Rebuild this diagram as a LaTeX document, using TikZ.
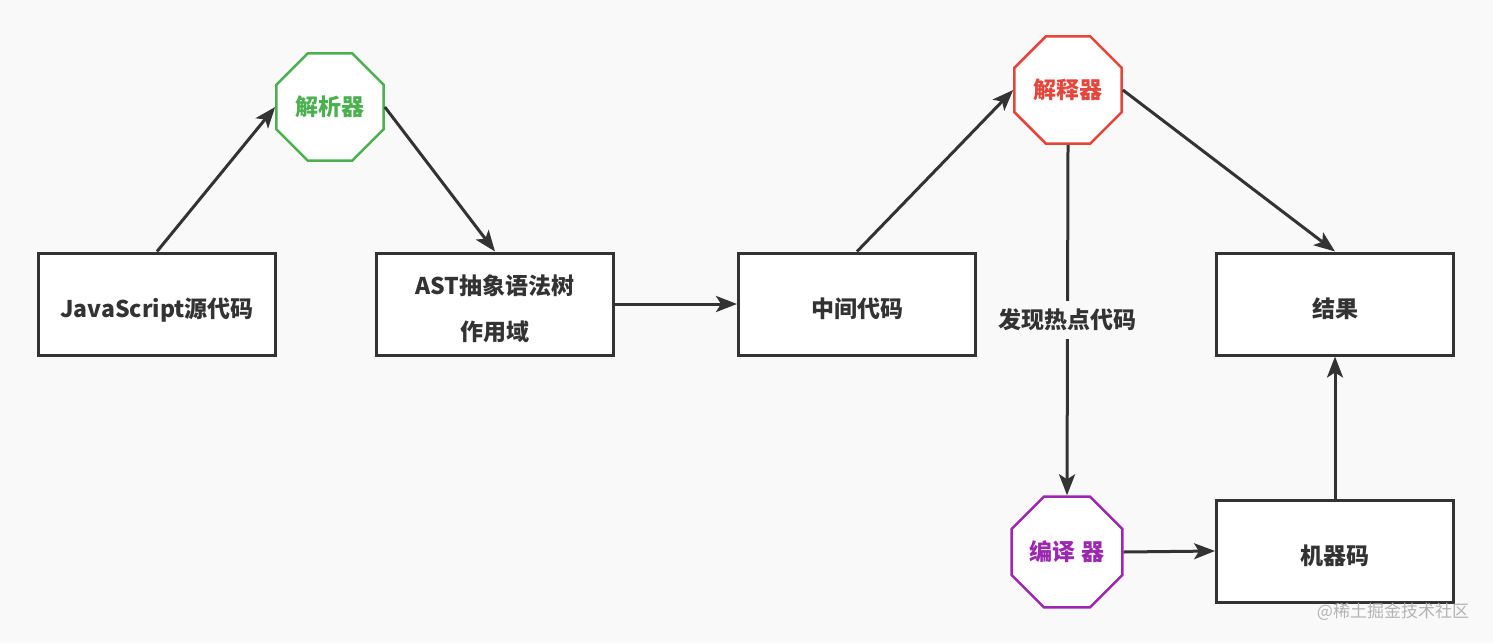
\documentclass[tikz,border=0pt]{standalone}
\usepackage{fontspec}
\setmainfont{Noto Sans CJK SC}
\usetikzlibrary{shapes.geometric,arrows.meta}

\definecolor{bgcol}{HTML}{F9F9F9}
\definecolor{linecol}{HTML}{333333}
\definecolor{parsecol}{HTML}{4CAF50}
\definecolor{interpcol}{HTML}{E5463C}
\definecolor{compcol}{HTML}{9C27B0}
\definecolor{markcol}{HTML}{B4B4B4}

\tikzset{
    codebox/.style = {draw=linecol, fill=white, line width=3pt,
        minimum width=237pt, minimum height=102pt, align=center,
        text height=27pt, text depth=0pt,
        text=linecol, font=\fontsize{23}{28}\selectfont\bfseries},
    octa/.style = {regular polygon, regular polygon sides=8,
        minimum size=116pt, inner sep=0pt, fill=white, line width=2.5pt,
        font=\fontsize{23}{28}\selectfont\bfseries},
    flow/.style = {draw=linecol, line width=3pt,
        -{Stealth[length=21pt,width=16pt,inset=5pt]}}
}

\begin{document}
\begin{tikzpicture}[x=1pt,y=-1pt]
    \fill[bgcol] (0,0) rectangle (1493,643);
    \useasboundingbox (0,0) rectangle (1493,643);

    % boxes
    \node[codebox] (source) at (157,304) {JavaScript源代码};
    \node[codebox, text height=75pt, text depth=3pt] (ast) at (495,304)
        {AST抽象语法树\\[18pt]作用域};
    \node[codebox] (bytecode) at (857,304) {中间代码};
    \node[codebox] (result) at (1335,304) {结果};
    \node[codebox] (machine) at (1335,551) {机器码};

    % engines
    \node[octa, draw=parsecol, text=parsecol] (parser) at (330,107) {解析器};
    \node[octa, draw=interpcol, text=interpcol] (interp) at (1068,90) {解释器};
    \node[octa, minimum size=120pt, draw=compcol, text=compcol] (compiler) at (1067,552) {编译 器};

    \draw[flow] (source.north) -- (parser.west);
    \draw[flow] (parser.east) -- (ast.north);
    \draw[flow] (ast.east) -- (bytecode.west);
    \draw[flow] (bytecode.north) -- (interp.west);
    \draw[flow] (interp.east) -- (result.north);
    \draw[flow] (interp.south) -- (compiler.north)
        node[midway, fill=bgcol, text=linecol, inner ysep=8pt,
             font=\fontsize{23}{28}\selectfont\bfseries] (hot) {发现热点代码};
    \draw[flow] (compiler.east) -- (machine.west);
    \draw[flow] (machine.north) -- (result.south);

    \node[text=markcol, font=\fontsize{17}{20}\selectfont] (mark) at (1393,612) {@稀土掘金技术社区};
\end{tikzpicture}
\end{document}
